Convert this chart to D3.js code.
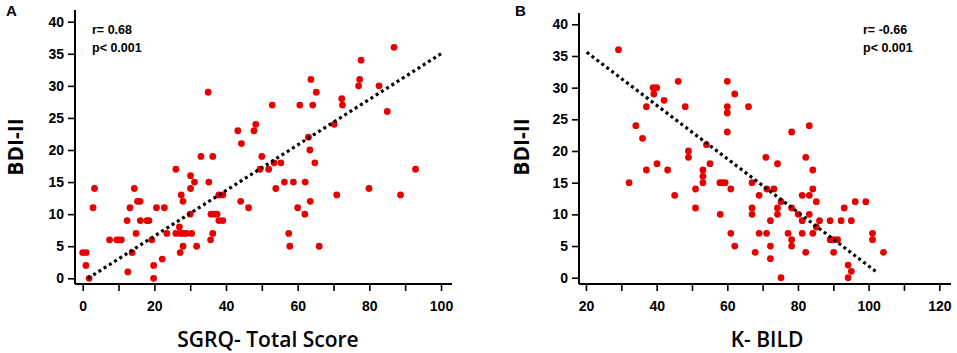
<!DOCTYPE html>
<html>
<head>
<meta charset="utf-8">
<script src="https://cdn.jsdelivr.net/npm/d3@7"></script>
<style>
  body { margin: 0; background: #fff; }
  svg { display: block; }
</style>
</head>
<body>
<div id="chart"></div>
<script>
// Panel A: SGRQ total score vs BDI-II
const sgrqX = [0, 1, 0.9, 1.8, 3.3, 2.9, 7.5, 9.5, 10.1, 10.8, 12.4, 13.2, 12.6, 13.8, 14.4, 14.9, 15.3, 16, 16.1,
  17.9, 18.5, 19.3, 19.8, 19.8, 20.6, 22.2, 22.8, 23.5, 26, 26, 27, 27.2, 27.5, 28, 28, 27.3, 28.1, 28.9,
  30.1, 30.1, 30, 30.4, 31.2, 31.8, 33, 35, 35.2, 35.7, 36.3, 36.3, 35.8, 36.7, 37.5, 38, 39.1, 38, 39.1,
  43.3, 44.3, 44.1, 46.3, 47.8, 48.3, 49.5, 50, 51.9, 52.9, 53.4, 53.9, 55.3, 56.3, 57.5, 57.8, 58.8, 60,
  60.6, 62, 62.1, 63, 63.4, 63.5, 63.7, 64.2, 64.8, 65.2, 66, 70.2, 70.9, 72.3, 72.5, 77, 77.3, 77.7, 79.9,
  82.7, 85, 86.9, 88.7, 92.9];
const sgrqBdi = [4, 4, 2, 0, 14, 11, 6, 6, 6, 6, 9, 11, 1, 4, 14, 7, 12, 12, 9,
  9, 9, 6, 2, 0, 11, 3, 11, 7, 17, 7, 8, 4, 13, 12, 5, 7, 7, 7,
  16, 14, 10, 7, 15, 5, 19, 29, 15, 6, 7, 19, 10, 10, 10, 13, 13, 9, 9,
  23, 21, 12, 11, 23, 24, 17, 19, 17, 27, 18, 14, 18, 15, 7, 5, 15, 11,
  27, 10, 15, 22, 20, 12, 31, 27, 18, 29, 5, 24, 13, 28, 27, 30, 31, 34, 14,
  30, 26, 36, 13, 17];

// Panel B: K-BILD vs BDI-II
const kbildX = [29.2, 32.2, 34.1, 36, 37.1, 37.1, 39, 40, 39.2, 40.1, 42.1, 43.1, 45.1, 46.1, 48.1, 49, 49,
  51, 51, 53.1, 53.1, 53.1, 54.1, 55.1, 58, 57.9, 58.7, 59.4, 60, 60, 60, 60, 61, 61, 62.1, 62.1,
  66, 67, 67, 67, 67.9, 69, 69, 70.9, 71.1, 71.2, 72.2, 72.2, 72.2, 73.2, 74.2, 74.2, 74.2, 75.2, 75.2,
  77.2, 78.2, 78.2, 78.2, 78.2, 80.1, 81.2, 81.2, 81.2, 82.2, 82.2, 83.2, 83.2, 83.2, 84.2, 84.2, 84.2,
  85.2, 85.2, 86.1, 89.1, 89.1, 90.1, 91.2, 90.1, 92.2, 93.1, 94.2, 94.2, 95.1, 95.1, 96.2, 99.2,
  101.1, 101.1, 104.2];
const kbildBdi = [36, 15, 24, 22, 27, 17, 30, 30, 29, 18, 28, 17, 13, 31, 27, 20, 19,
  14, 11, 17, 16, 15, 21, 18, 10, 15, 15, 15, 31, 27, 26, 23, 14, 7, 29, 5,
  27, 15, 11, 10, 4, 13, 7, 19, 7, 14, 9, 5, 3, 14, 18, 11, 10, 12, 0,
  7, 23, 11, 6, 5, 10, 13, 9, 7, 19, 4, 24, 13, 10, 17, 14, 7,
  12, 8, 9, 9, 6, 6, 6, 4, 9, 11, 2, 0, 9, 1, 12, 12,
  7, 6, 4];

// regression line end points [x0, y0, x1, y1]
const fitA = [1.5, 0, 100, 35];
const fitB = [20.2, 35.6, 102, 1];

const yTicks = [0, 5, 10, 15, 20, 25, 30, 35, 40];
const xTicksA = [0, 10, 20, 30, 40, 50, 60, 70, 80, 90, 100];
const xTicksB = [20, 30, 40, 50, 60, 70, 80, 90, 100, 110, 120];

const width = 957, height = 353;

const svg = d3.select("#chart")
  .append("svg")
  .attr("width", width)
  .attr("height", height);

function drawPanel(opts) {
  const g = svg.append("g");

  const x = d3.scaleLinear().domain(opts.xDomain).range(opts.xRange);
  const y = d3.scaleLinear().domain([0, 40]).range(opts.yRange);

  // y axis
  const yAxis = g.append("g")
    .attr("transform", `translate(${opts.axisX},0)`)
    .call(d3.axisLeft(y).tickValues(yTicks).tickSize(7).tickSizeOuter(0).tickPadding(4));
  yAxis.select(".domain").remove();

  // x axis
  const xAxis = g.append("g")
    .attr("transform", `translate(0,${opts.axisY})`)
    .call(d3.axisBottom(x).tickValues(opts.xTicks).tickSize(7).tickSizeOuter(0).tickPadding(10)
      .tickFormat(d => (d % 20 === 0 ? d : "")));
  xAxis.select(".domain").remove();

  [yAxis, xAxis].forEach(a => {
    a.selectAll("line").attr("stroke", "#000").attr("stroke-width", 1.6);
    a.selectAll("text")
      .attr("fill", "#000")
      .style("font-family", "'Liberation Sans', Arial, sans-serif")
      .style("font-weight", "bold")
      .style("font-size", "14px");
  });

  // axis lines
  g.append("line")
    .attr("x1", opts.axisX).attr("x2", opts.axisX)
    .attr("y1", opts.axisTop).attr("y2", opts.axisY)
    .attr("stroke", "#000").attr("stroke-width", 2);
  g.append("line")
    .attr("x1", opts.axisX).attr("x2", opts.axisRight)
    .attr("y1", opts.axisY).attr("y2", opts.axisY)
    .attr("stroke", "#000").attr("stroke-width", 2);

  // points
  g.selectAll("circle")
    .data(opts.xs.map((d, i) => [d, opts.ys[i]]))
    .enter()
    .append("circle")
    .attr("cx", d => x(d[0]))
    .attr("cy", d => y(d[1]))
    .attr("r", 3.4)
    .attr("fill", "#e60000");

  // dotted fit line
  g.append("line")
    .attr("x1", x(opts.fit[0])).attr("y1", y(opts.fit[1]))
    .attr("x2", x(opts.fit[2])).attr("y2", y(opts.fit[3]))
    .attr("stroke", "#000")
    .attr("stroke-width", 3.2)
    .attr("stroke-dasharray", "3,3.2");

  // stats
  const stats = g.append("text")
    .attr("x", opts.statX)
    .attr("y", 34)
    .style("font-family", "'Liberation Sans', Arial, sans-serif")
    .style("font-weight", "bold")
    .style("font-size", "12.5px");
  stats.append("tspan").attr("x", opts.statX).attr("y", 34).text(opts.rText);
  stats.append("tspan").attr("x", opts.statX).attr("y", 52).text("p< 0.001");

  // panel letter
  g.append("text")
    .attr("x", opts.letterX)
    .attr("y", 16)
    .style("font-family", "'Liberation Sans', Arial, sans-serif")
    .style("font-weight", "bold")
    .style("font-size", "15px")
    .text(opts.letter);

  // axis titles
  g.append("text")
    .attr("x", opts.titleX)
    .attr("y", 347)
    .attr("text-anchor", "middle")
    .style("font-family", "'Open Sans', sans-serif")
    .style("font-weight", "600")
    .style("font-size", "21px")
    .text(opts.xTitle);

  g.append("text")
    .attr("transform", `translate(${opts.yTitleX},147) rotate(-90)`)
    .attr("text-anchor", "middle")
    .style("font-family", "'Open Sans', sans-serif")
    .style("font-weight", "700")
    .style("font-size", "21px")
    .text("BDI-II");
}

drawPanel({
  letter: "A", letterX: 6,
  xs: sgrqX, ys: sgrqBdi, fit: fitA,
  xDomain: [0, 100], xRange: [82.7, 441], yRange: [278.3, 21.7],
  xTicks: xTicksA,
  axisX: 75, axisY: 284, axisTop: 10, axisRight: 452,
  statX: 92, rText: "r= 0.68",
  titleX: 268, xTitle: "SGRQ- Total Score", yTitleX: 23
});

drawPanel({
  letter: "B", letterX: 515,
  xs: kbildX, ys: kbildBdi, fit: fitB,
  xDomain: [20, 120], xRange: [586, 939.3], yRange: [277.7, 24.3],
  xTicks: xTicksB,
  axisX: 579, axisY: 284, axisTop: 13, axisRight: 951,
  statX: 863, rText: "r= -0.66",
  titleX: 767, xTitle: "K- BILD", yTitleX: 529
});
</script>
</body>
</html>
